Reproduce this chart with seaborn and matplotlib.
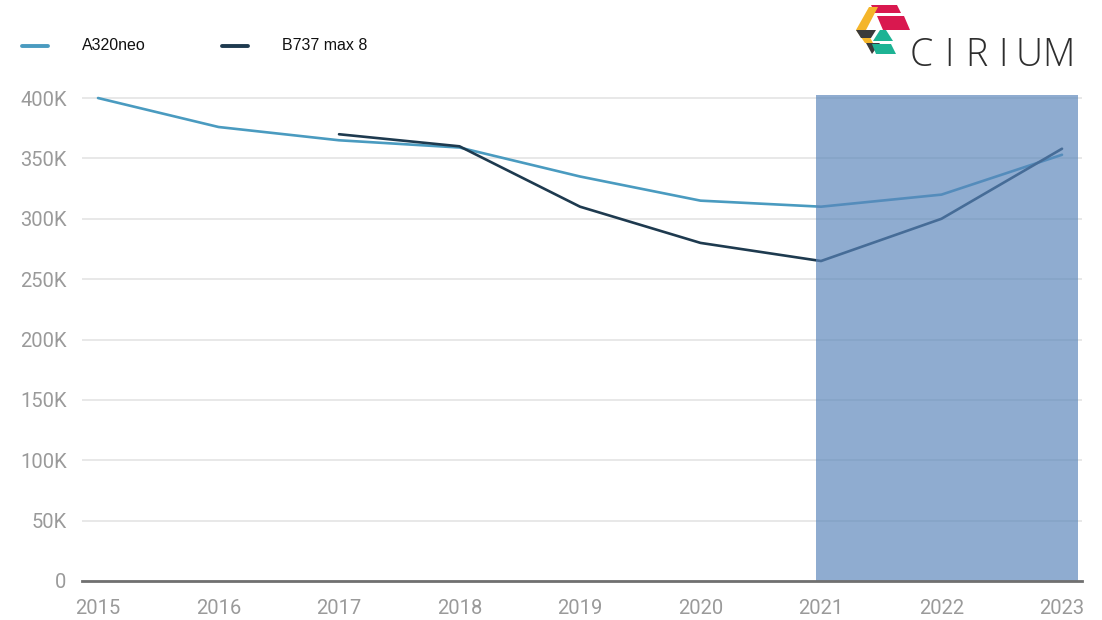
import pandas as pd
import matplotlib.pyplot as plt
import seaborn as sns
from matplotlib.patches import Polygon
from matplotlib.ticker import FuncFormatter

# Datos
years = [2015, 2016, 2017, 2018, 2019, 2020, 2021, 2022, 2023]
a320neo = [400000, 376000, 365000, 359000, 335000, 315000, 310000, 320000, 353000]
b737_years = [2017, 2018, 2019, 2020, 2021, 2022, 2023]
b737max8 = [370000, 360000, 310000, 280000, 265000, 300000, 358000]
series_names = ['A320neo', 'B737 max 8']
series_colors = ['#4A9BC0', '#1E3A4F']
shade_start, shade_end = 2021, 2023

df = pd.concat([
    pd.DataFrame({'Year': years, 'Value': a320neo, 'Model': series_names[0]}),
    pd.DataFrame({'Year': b737_years, 'Value': b737max8, 'Model': series_names[1]}),
], ignore_index=True)

sns.set_theme(style='white')
plt.rcParams['font.family'] = ['Roboto', 'DejaVu Sans']

W, H = 1102, 620
fig = plt.figure(figsize=(W / 100, H / 100), dpi=100)
ax = fig.add_axes([82 / W, 1 - 581 / H, 1000 / W, 486 / H])

sns.lineplot(data=df, x='Year', y='Value', hue='Model', palette=series_colors,
             linewidth=1.9, ax=ax, legend=False, zorder=3)

# Zona sombreada (2021-2023)
ax.axvspan(shade_start - 0.04, shade_end + 0.13, ymin=0, ymax=1,
           color='#5A85BA', alpha=0.68, lw=0, zorder=4)

ax.set_xlim(2014.867, 2023.166)
ax.set_ylim(0, 402500)
ax.set_xticks(years)
ax.set_yticks(range(0, 400001, 50000))
ax.yaxis.set_major_formatter(FuncFormatter(lambda v, p: '0' if v == 0 else f'{int(v / 1000)}K'))
ax.grid(axis='y', color='#E6E6E6', linewidth=1.3, zorder=0)
ax.set_axisbelow(True)
for side in ['left', 'right', 'top']:
    ax.spines[side].set_visible(False)
ax.spines['bottom'].set_color('#707070')
ax.spines['bottom'].set_linewidth(2)
ax.spines['bottom'].set_zorder(5)
ax.tick_params(axis='both', length=0, labelsize=14.5, labelcolor='#9A9A9A')
ax.tick_params(axis='x', pad=13)
ax.tick_params(axis='y', pad=11)
ax.set_xlabel('')
ax.set_ylabel('')

# Leyenda superior
for i, (name, col) in enumerate(zip(series_names, series_colors)):
    x0 = 22 + i * 200
    fig.add_artist(plt.Line2D([x0 / W, (x0 + 26) / W], [1 - 46 / H] * 2,
                              color=col, lw=2.8, transform=fig.transFigure))
    fig.text((x0 + 60) / W, 1 - 46 / H, name, fontsize=11.5, color='#111111',
             va='center', ha='left', family=['Liberation Sans'])

# Logo de Cirium
def px(points):
    return [(x / W, 1 - y / H) for x, y in points]

logo_shapes = [
    ([(871, 5), (897, 5), (901, 13), (875, 13)], '#D9184F'),
    ([(877, 16), (904, 16), (910, 30), (883, 30)], '#D9184F'),
    ([(869, 7), (878, 7), (866, 30), (873, 43), (865, 43), (856, 30)], '#F4B52A'),
    ([(856, 30), (876, 30), (871, 38), (861, 38)], '#3A3A3A'),
    ([(866, 43), (880, 43), (872, 54)], '#3A3A3A'),
    ([(880, 30), (886, 30), (893, 41), (873, 41)], '#1DB394'),
    ([(872, 44), (891, 44), (896, 54), (876, 54)], '#1DB394'),
]
for pts, col in logo_shapes:
    fig.add_artist(Polygon(px(pts), closed=True, facecolor=col, edgecolor='none',
                           transform=fig.transFigure))
for letter, xc in zip('CIRIUM', [921, 949, 976, 1003, 1029, 1058]):
    fig.text(xc / W, 1 - 56 / H, letter, fontsize=27, color='#2E2E2E',
             va='center', ha='center', family=['Open Sans'], fontweight='light')

fig.savefig('out.png', dpi=100)
